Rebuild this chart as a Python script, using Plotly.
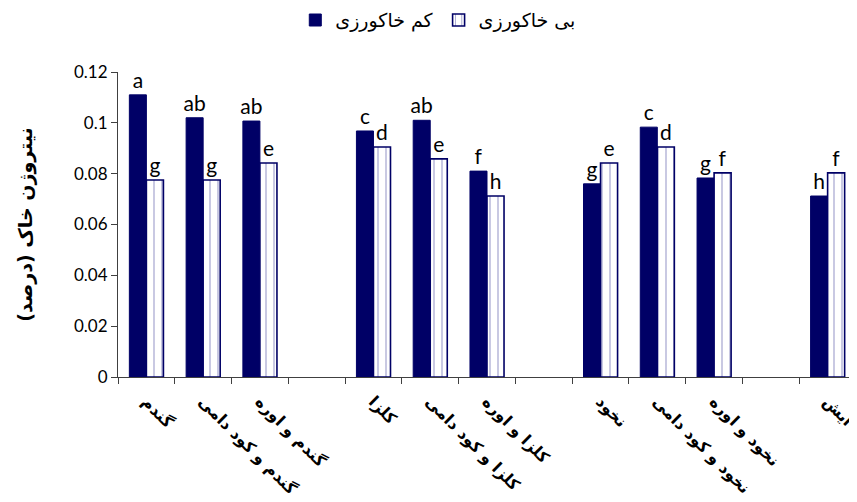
import plotly.graph_objects as go

# Categories (with blank separator slots)
categories = ["گندم", "گندم و کود دامی", "گندم و اوره", " ",
              "کلزا", "کلزا و کود دامی", "کلزا و اوره", "  ",
              "نخود", "نخود و کود دامی", "نخود و اوره", "   ",
              "آیش"]

series_names = ["کم خاکورزی", "بی خاکورزی"]

low_till = [0.111, 0.102, 0.1007, None, 0.0968, 0.101, 0.081, None,
            0.076, 0.0983, 0.0783, None, 0.0712]
no_till = [0.0775, 0.0775, 0.0842, None, 0.0905, 0.0858, 0.0712, None,
           0.0842, 0.0905, 0.0803, None, 0.0803]

low_letters = ["a", "ab", "ab", "", "c", "ab", "f", "", "g", "c", "g", "", "h"]
no_letters = ["g", "g", "e", "", "d", "e", "h", "", "e", "d", "f", "", "f"]

y_ticks = [0, 0.02, 0.04, 0.06, 0.08, 0.1, 0.12]

navy = "#000066"
persian_font = "DejaVu Sans"
latin_font = "Lato, Liberation Sans, sans-serif"

fig = go.Figure()
fig.add_trace(go.Bar(
    x=categories, y=low_till, name=series_names[0],
    marker=dict(color=navy, line=dict(color=navy, width=1)),
    text=low_letters, textposition="outside", cliponaxis=False,
    constraintext="none",
    textfont=dict(family=latin_font, size=21, color="black"),
))
fig.add_trace(go.Bar(
    x=categories, y=no_till, name=series_names[1],
    marker=dict(color="white", line=dict(color=navy, width=1.6),
                pattern=dict(shape="|", fgcolor="#4a4aa0", bgcolor="white",
                             size=8, solidity=0.15)),
    text=no_letters, textposition="outside", cliponaxis=False,
    constraintext="none",
    textfont=dict(family=latin_font, size=21, color="black"),
))

# page body has an 8px margin, so the figure is sized/offset to compensate
fig.update_layout(
    width=849, height=494,
    margin=dict(l=110, r=1, t=64, b=125, autoexpand=False),
    paper_bgcolor="white", plot_bgcolor="white",
    barmode="group", bargap=0.4, bargroupgap=0,
    showlegend=True,
    legend=dict(orientation="h", x=0.434, xanchor="center", y=1.17, yanchor="middle",
                font=dict(family=persian_font, size=19, color="black"),
                itemwidth=30, bgcolor="rgba(0,0,0,0)"),
    xaxis=dict(
        type="category", categoryorder="array", categoryarray=categories,
        tickson="boundaries", ticks="outside", ticklen=6, tickcolor="#404040",
        showline=True, linecolor="#404040", linewidth=1,
        tickangle=45, showgrid=False, automargin=False,
        ticklabelstandoff=8,
        tickfont=dict(family=persian_font, size=16, color="black", weight="bold"),
        range=[-0.5, 12.5],
    ),
    yaxis=dict(
        range=[0, 0.12], tickvals=y_ticks, ticktext=[("%g" % v) for v in y_ticks],
        ticks="outside", ticklen=6, tickcolor="#404040",
        showline=True, linecolor="#404040", linewidth=1,
        showgrid=False, zeroline=False, automargin=False,
        tickfont=dict(family=latin_font, size=17, color="black"),
        title=dict(text="<b>نیتروژن خاک (درصد)</b>",
                   font=dict(family=persian_font, size=19, color="black"),
                   standoff=36),
    ),
)

fig.write_html("out.html")
